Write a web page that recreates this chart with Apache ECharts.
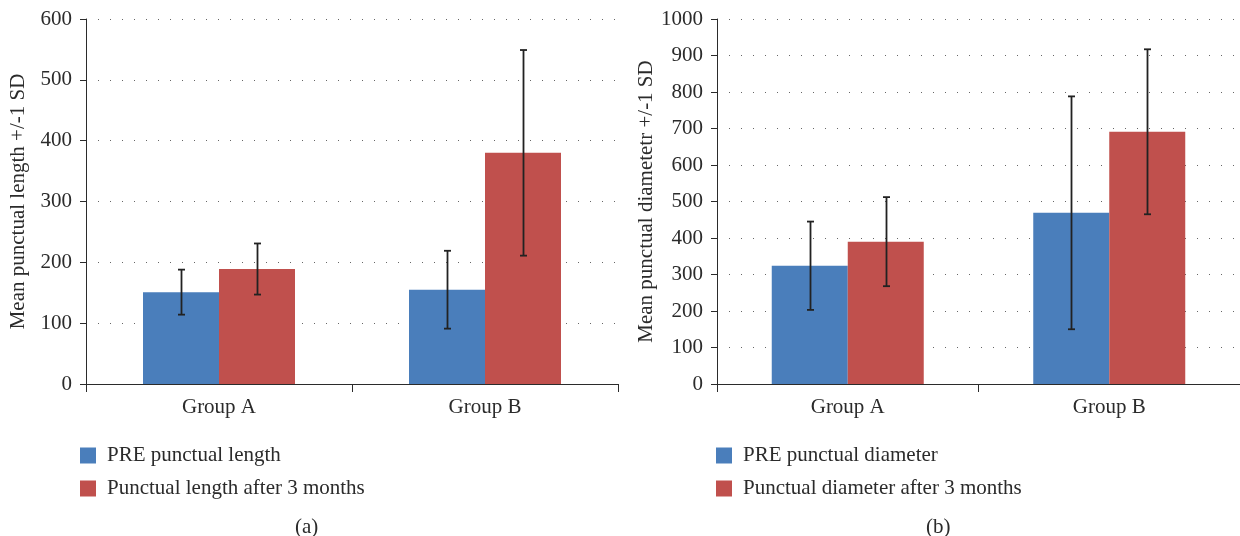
<!DOCTYPE html>
<html>
<head>
<meta charset="utf-8">
<script src="https://cdn.jsdelivr.net/npm/echarts@6/dist/echarts.min.js"></script>
<style>
html,body{margin:0;padding:0;background:#fff;}
#chart{width:1240px;height:536px;}
</style>
</head>
<body>
<div id="chart"></div>
<script>
// ---- data ----
const categories = ['Group A', 'Group B'];
const lengthTicks = [0, 100, 200, 300, 400, 500, 600];
const diameterTicks = [0, 100, 200, 300, 400, 500, 600, 700, 800, 900, 1000];

const preLength = [151, 155];
const preLengthSD = [37, 64];
const postLength = [189, 380];
const postLengthSD = [42, 169];

const preDiameter = [324, 469];
const preDiameterSD = [121, 319];
const postDiameter = [390, 691];
const postDiameterSD = [122, 226];

const seriesNamesA = ['PRE punctual length', 'Punctual length after 3 months'];
const seriesNamesB = ['PRE punctual diameter', 'Punctual diameter after 3 months'];
const yNameA = 'Mean punctual length +/-1 SD';
const yNameB = 'Mean punctual diametetr +/-1 SD';
const panelLabels = ['(a)', '(b)'];

// ---- styles ----
const BLUE = '#4A7EBB';
const RED = '#C0504D';
const TXT = '#2b2b2b';
const FONT = '"Liberation Serif", "DejaVu Serif", serif';
const BAR_W = 76;
const FS = 21;

function errSeries(gridIdx, means, sds, offset, name) {
  return {
    type: 'custom',
    name: name,
    xAxisIndex: gridIdx,
    yAxisIndex: gridIdx,
    z: 10,
    silent: true,
    data: means.map((m, i) => [i, m - sds[i], m + sds[i]]),
    encode: { x: 0, y: [1, 2] },
    renderItem: function (params, api) {
      const lo = api.coord([api.value(0), api.value(1)]);
      const hi = api.coord([api.value(0), api.value(2)]);
      const x = Math.round(lo[0] + offset) + 0.5;
      const cap = 3.5;
      const st = { stroke: '#222', lineWidth: 1.8 };
      return {
        type: 'group',
        children: [
          { type: 'line', shape: { x1: x, y1: lo[1], x2: x, y2: hi[1] }, style: st },
          { type: 'line', shape: { x1: x - cap, y1: lo[1], x2: x + cap, y2: lo[1] }, style: st },
          { type: 'line', shape: { x1: x - cap, y1: hi[1], x2: x + cap, y2: hi[1] }, style: st }
        ]
      };
    }
  };
}

function xAxisCfg(gridIdx) {
  return {
    type: 'category',
    gridIndex: gridIdx,
    data: categories,
    axisLine: { show: true, lineStyle: { color: TXT, width: 1 } },
    axisTick: { show: true, alignWithLabel: false, length: 8, lineStyle: { color: TXT } },
    axisLabel: { color: TXT, fontFamily: FONT, fontSize: FS, margin: 13 },
    splitLine: { show: false }
  };
}

function yAxisCfg(gridIdx, ticks, name, nameGap) {
  return {
    type: 'value',
    gridIndex: gridIdx,
    min: ticks[0],
    max: ticks[ticks.length - 1],
    interval: ticks[1] - ticks[0],
    name: name,
    nameLocation: 'middle',
    nameRotate: 90,
    nameGap: nameGap,
    nameTextStyle: { color: TXT, fontFamily: FONT, fontSize: FS },
    axisLine: { show: true, lineStyle: { color: TXT, width: 1 } },
    axisTick: { show: true, length: 6, lineStyle: { color: TXT } },
    axisLabel: { color: TXT, fontFamily: FONT, fontSize: FS, margin: 14, formatter: function (v) { return String(v); } },
    splitLine: { show: true, lineStyle: { color: '#666', width: 1, type: [1, 11] } }
  };
}

const legendText = { color: TXT, fontFamily: FONT, fontSize: FS, padding: [0, 0, 0, 6] };

const option = {
  animation: false,
  backgroundColor: '#ffffff',
  grid: [
    { left: 86, top: 19, width: 532, height: 365 },
    { left: 717, top: 19, width: 528, height: 365 }
  ],
  xAxis: [xAxisCfg(0), xAxisCfg(1)],
  yAxis: [yAxisCfg(0, lengthTicks, yNameA, 57), yAxisCfg(1, diameterTicks, yNameB, 57)],
  legend: [
    {
      data: seriesNamesA, left: 80, top: 445, padding: 0, orient: 'vertical', icon: 'rect',
      itemWidth: 16, itemHeight: 16, itemGap: 12, textStyle: legendText, selectedMode: false
    },
    {
      data: seriesNamesB, left: 716, top: 445, padding: 0, orient: 'vertical', icon: 'rect',
      itemWidth: 16, itemHeight: 16, itemGap: 12, textStyle: legendText, selectedMode: false
    }
  ],
  graphic: [
    { type: 'text', left: 295, top: 517, style: { text: panelLabels[0], fill: TXT, font: FS + 'px ' + FONT } },
    { type: 'text', left: 926, top: 517, style: { text: panelLabels[1], fill: TXT, font: FS + 'px ' + FONT } }
  ],
  series: [
    { type: 'bar', name: seriesNamesA[0], xAxisIndex: 0, yAxisIndex: 0, data: preLength, barWidth: BAR_W, barGap: '0%', itemStyle: { color: BLUE } },
    { type: 'bar', name: seriesNamesA[1], xAxisIndex: 0, yAxisIndex: 0, data: postLength, barWidth: BAR_W, barGap: '0%', itemStyle: { color: RED } },
    { type: 'bar', name: seriesNamesB[0], xAxisIndex: 1, yAxisIndex: 1, data: preDiameter, barWidth: BAR_W, barGap: '0%', itemStyle: { color: BLUE } },
    { type: 'bar', name: seriesNamesB[1], xAxisIndex: 1, yAxisIndex: 1, data: postDiameter, barWidth: BAR_W, barGap: '0%', itemStyle: { color: RED } },
    errSeries(0, preLength, preLengthSD, -BAR_W / 2, 'errA1'),
    errSeries(0, postLength, postLengthSD, BAR_W / 2, 'errA2'),
    errSeries(1, preDiameter, preDiameterSD, -BAR_W / 2, 'errB1'),
    errSeries(1, postDiameter, postDiameterSD, BAR_W / 2, 'errB2')
  ]
};

const chart = echarts.init(document.getElementById('chart'), null, { renderer: 'canvas' });
chart.setOption(option);
</script>
</body>
</html>
